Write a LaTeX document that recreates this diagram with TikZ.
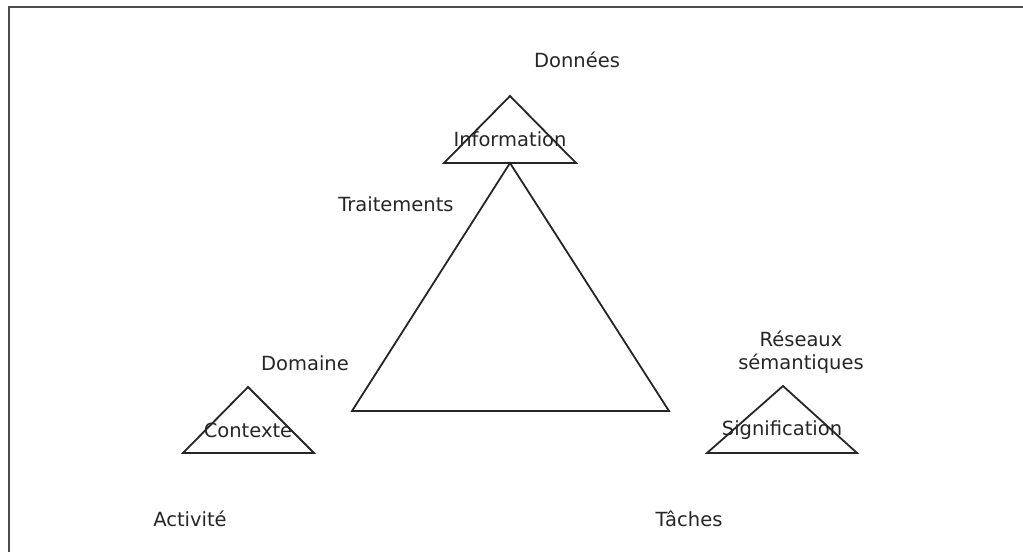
\documentclass[tikz,border=0pt]{standalone}
\usepackage{fontspec}
\setmainfont{DejaVu Sans}
\begin{document}
\begin{tikzpicture}[x=1pt,y=-1pt,
    tri/.style={draw=black!85,line width=1.8pt,line join=miter},
    lbl/.style={text=black!85,font=\fontsize{19.5}{23}\selectfont,inner sep=0pt,align=center},
    frame/.style={draw=black!70,line width=2pt}]
  \useasboundingbox (0,0) rectangle (1023,552);
  \fill[white] (0,0) rectangle (1023,552);
  % page frame (top and left edges)
  \coordinate (ftl) at (9,7);
  \coordinate (ftr) at (1023,7);
  \coordinate (fbl) at (9,552);
  \draw[frame] (ftr) -- (ftl) -- (fbl);

  % central triangle
  \coordinate (mA) at (510,163);
  \coordinate (mL) at (352,411);
  \coordinate (mR) at (669,411);
  \draw[tri] (mA) -- (mL) -- (mR) -- cycle;

  % top small triangle
  \coordinate (tA) at (510,96);
  \coordinate (tL) at (444,163);
  \coordinate (tR) at (576,163);
  \draw[tri] (tA) -- (tL) -- (tR) -- cycle;

  % left small triangle
  \coordinate (lA) at (248,387);
  \coordinate (lL) at (183,453);
  \coordinate (lR) at (314,453);
  \draw[tri] (lA) -- (lL) -- (lR) -- cycle;

  % right small triangle
  \coordinate (rA) at (783,386);
  \coordinate (rL) at (707,453);
  \coordinate (rR) at (857,453);
  \draw[tri] (rA) -- (rL) -- (rR) -- cycle;

  % labels
  \node[lbl] (donnees) at (577,60) {Données};
  \node[lbl] (information) at (510,139) {Information};
  \node[lbl] (traitements) at (396,204) {Traitements};
  \node[lbl] (domaine) at (305,363) {Domaine};
  \node[lbl] (contexte) at (248,430) {Contexte};
  \node[lbl] (reseaux) at (801,352) {Réseaux\\sémantiques};
  \node[lbl] (signification) at (782,430) {Signification};
  \node[lbl] (activite) at (190,519) {Activité};
  \node[lbl] (taches) at (689,519) {Tâches};
\end{tikzpicture}
\end{document}
